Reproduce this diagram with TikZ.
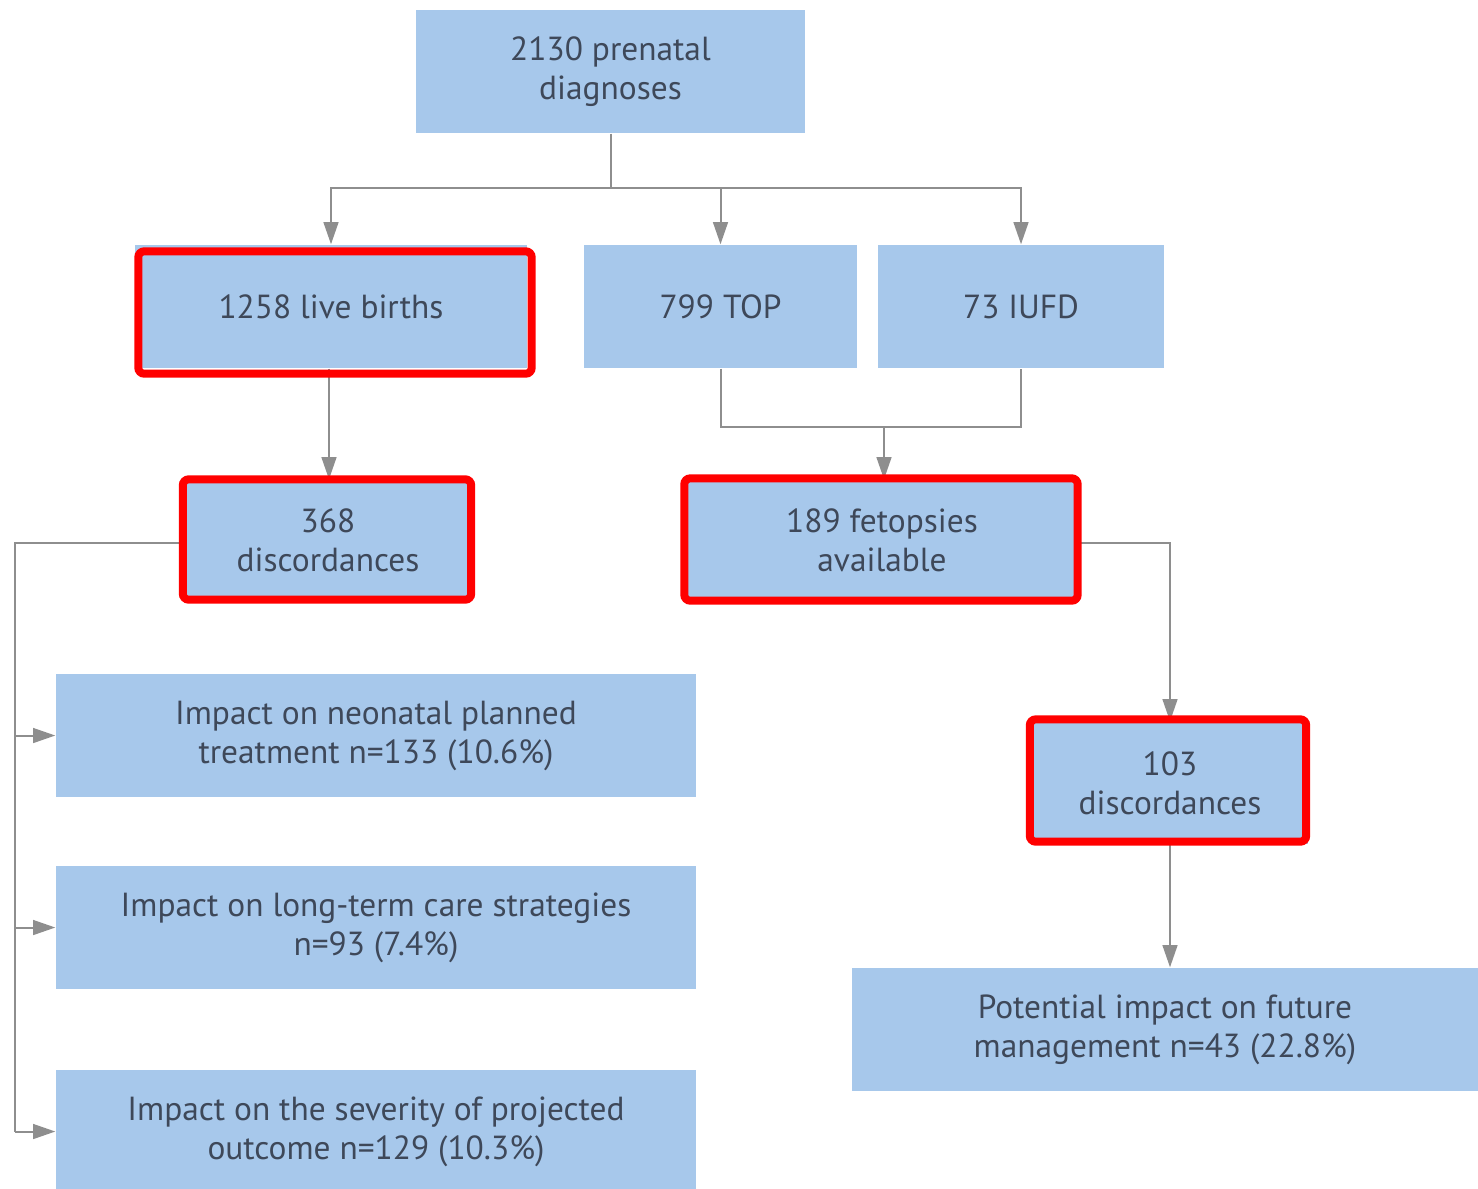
\documentclass[tikz,border=0pt]{standalone}
\usepackage{fontspec}
\setmainfont{PT Sans}
\usetikzlibrary{arrows.meta,calc}
\definecolor{boxblue}{HTML}{A7C8EB}
\definecolor{txt}{HTML}{3E4859}
\definecolor{lin}{HTML}{8E8E8E}
\begin{document}
\begin{tikzpicture}[
  box/.style={fill=boxblue, draw=none, text=txt, align=center, inner sep=0pt,
    font=\fontsize{9.5}{11.1}\selectfont, minimum height=1.23cm},
  conn/.style={draw=lin, line width=0.2mm},
  arr/.style={conn, -{Triangle[length=6.3pt,width=4.2pt]}},
  hl/.style={draw=red, line width=0.8mm, rounded corners=0.6mm}
]
\useasboundingbox (0,0) rectangle (14.78,-11.88);
\fill[white] (0,0) rectangle (14.78,-11.88);

\node[box, minimum width=3.89cm] (top) at (6.105,-0.715) {2130 prenatal\\diagnoses};
\node[box, minimum width=3.92cm] (live) at (3.31,-3.065) {1258 live births};
\node[box, minimum width=2.73cm] (tp) at (7.205,-3.065) {799 TOP};
\node[box, minimum width=2.86cm] (iufd) at (10.21,-3.065) {73 IUFD};
\node[box, minimum width=2.85cm, minimum height=1.20cm] (d368) at (3.28,-5.40) {368\\discordances};
\node[box, minimum width=3.90cm, minimum height=1.20cm] (fet) at (8.82,-5.40) {189 fetopsies\\available};
\node[box, minimum width=2.75cm, minimum height=1.22cm] (d103) at (11.70,-7.83) {103\\discordances};
\node[box, minimum width=6.26cm] (pot) at (11.65,-10.295) {Potential impact on future\\management n=43 (22.8\%)};
\node[box, minimum width=6.40cm] (i1) at (3.76,-7.355) {Impact on neonatal planned\\treatment n=133 (10.6\%)};
\node[box, minimum width=6.40cm] (i2) at (3.76,-9.275) {Impact on long-term care strategies\\n=93 (7.4\%)};
\node[box, minimum width=6.40cm] (i3) at (3.76,-11.315) {Impact on the severity of projected\\outcome n=129 (10.3\%)};

% connectors
\coordinate (j1) at (6.105,-1.88);
\draw[conn] (top.south) -- (j1);
\draw[arr] (j1) -| (live.north);
\draw[arr] (j1) -| (tp.north);
\draw[arr] (j1) -| (iufd.north);

\draw[arr] ([xshift=-0.02cm]live.south) -- ([xshift=-0.02cm]live.south |- d368.north);

\coordinate (j2) at (8.84,-4.27);
\draw[conn] (tp.south) |- (j2) -| (iufd.south);
\draw[arr] (j2) -- (j2 |- fet.north);

\coordinate (j3) at (0.15,-5.43);
\draw[conn] ([yshift=-0.03cm]d368.west) -- (j3) -- (j3 |- i3.west);
\draw[arr] (j3 |- i1.west) -- (i1.west);
\draw[arr] (j3 |- i2.west) -- (i2.west);
\draw[arr] (j3 |- i3.west) -- (i3.west);

\draw[arr] ([yshift=-0.03cm]fet.east) -| (d103.north);
\draw[arr] (d103.south) -- (d103.south |- pot.north);

% red highlights
\draw[hl] ([shift={(0.04,-0.07)}]live.north west) rectangle ([shift={(0.04,-0.05)}]live.south east);
\draw[hl] ([shift={(-0.02,0.0)}]d368.north west) rectangle ([shift={(0.0,0.01)}]d368.south east);
\draw[hl] ([shift={(-0.02,0.01)}]fet.north west) rectangle ([shift={(0.0,0.0)}]fet.south east);
\draw[hl] ([shift={(-0.02,0.02)}]d103.north west) rectangle ([shift={(-0.02,0.03)}]d103.south east);
\end{tikzpicture}
\end{document}
